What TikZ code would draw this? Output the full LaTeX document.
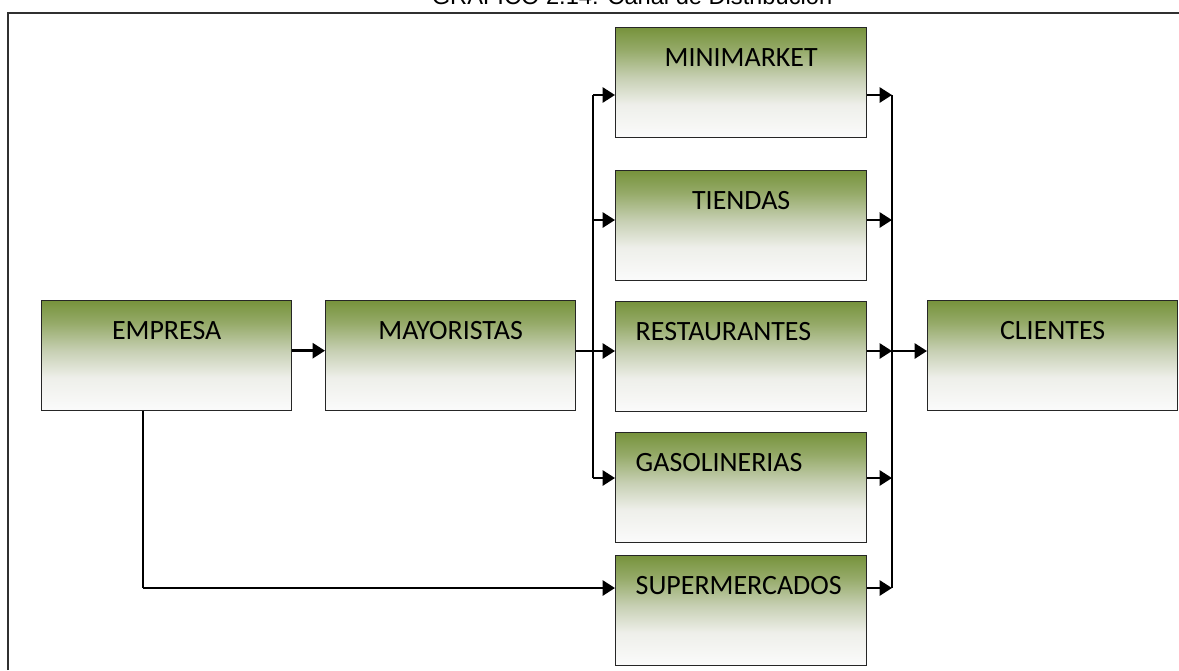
\documentclass[tikz,border=0pt]{standalone}
\usepackage{fontspec}
\setmainfont{Carlito}
\newfontfamily\titlefont{Liberation Sans}
\usetikzlibrary{arrows.meta}
\definecolor{gtop}{HTML}{77933C}
\definecolor{gthree}{HTML}{95AA68}
\definecolor{gtwo}{HTML}{C6CFB2}
\definecolor{gone}{HTML}{EEEFEA}
\definecolor{gbot}{HTML}{FBFBFB}
\definecolor{boxline}{HTML}{262626}
\definecolor{framegray}{HTML}{303030}
\pgfdeclareverticalshading{boxgrad}{100bp}{color(0bp)=(gbot); color(25bp)=(gbot); color(40bp)=(gone); color(52.5bp)=(gtwo); color(65bp)=(gthree); color(75bp)=(gtop); color(100bp)=(gtop)}
\begin{document}
\begin{tikzpicture}[x=0.02cm,y=-0.02cm,
  box/.style={draw=boxline, line width=0.8pt, shading=boxgrad, inner ysep=0pt,
    text height=0.78cm, text depth=1.42cm, anchor=north west,
    font=\fontsize{15.9}{18}\selectfont},
  cbox/.style={box, inner xsep=0pt, text width=5.02cm, align=center},
  lbox/.style={box, inner xsep=0.4cm, text width=4.22cm, align=left},
  arr/.style={line width=1.5pt, -{Triangle[length=7pt,width=8.5pt]}},
  busline/.style={line width=0.8pt},
  thinline/.style={line width=0.6pt}]
\useasboundingbox (0,0) rectangle (1179,670);
% frame and title
\draw[line width=1.1pt, draw=framegray] (8,670) -- (8,13) -- (1179,13);
\node[anchor=base, inner sep=0pt, font=\titlefont\fontsize{13.46}{16}\selectfont] (title) at (632,4.5) {GRAFICO 2.14: Canal de Distribución};
% boxes
\node[cbox, text width=5.0cm] (emp) at (41,300) {EMPRESA};
\node[cbox, text width=5.0cm] (may) at (325,300) {MAYORISTAS};
\node[cbox] (mini) at (615,27) {MINIMARKET};
\node[cbox] (tie) at (615,170) {TIENDAS};
\node[lbox] (res) at (615,301) {RESTAURANTES};
\node[lbox] (gas) at (615,432) {GASOLINERIAS};
\node[lbox] (sup) at (615,555) {SUPERMERCADOS};
\node[cbox, text width=5.0cm] (cli) at (927,300) {CLIENTES};
% bus coordinates
\coordinate (l1) at (593,95);
\coordinate (l2) at (593,220);
\coordinate (l3) at (593,351);
\coordinate (l4) at (593,478);
\coordinate (r1) at (892,95);
\coordinate (r2) at (892,220);
\coordinate (r3) at (892,351);
\coordinate (r4) at (892,478);
\coordinate (r5) at (892,588);
\coordinate (e1) at (143,588);
% connectors
\draw[arr] ([yshift=1mm]emp.east) -- ([yshift=1mm]may.west);
\draw[thinline] (may.east |- l3) -- (l3);
\draw[busline] (l1) -- (l4);
\foreach \c/\n in {l1/mini,l2/tie,l3/res,l4/gas}
  \draw[arr] (\c) -- (\c -| \n.west);
\draw[busline] (r1) -- (r5);
\foreach \c/\n in {r1/mini,r2/tie,r3/res,r4/gas,r5/sup}
  \draw[arr] (\c -| \n.east) -- (\c);
\draw[arr] (r3) -- (r3 -| cli.west);
\draw[thinline] (e1 |- emp.south) -- (e1);
\draw[arr] (e1) -- (e1 -| sup.west);
\end{tikzpicture}
\end{document}
